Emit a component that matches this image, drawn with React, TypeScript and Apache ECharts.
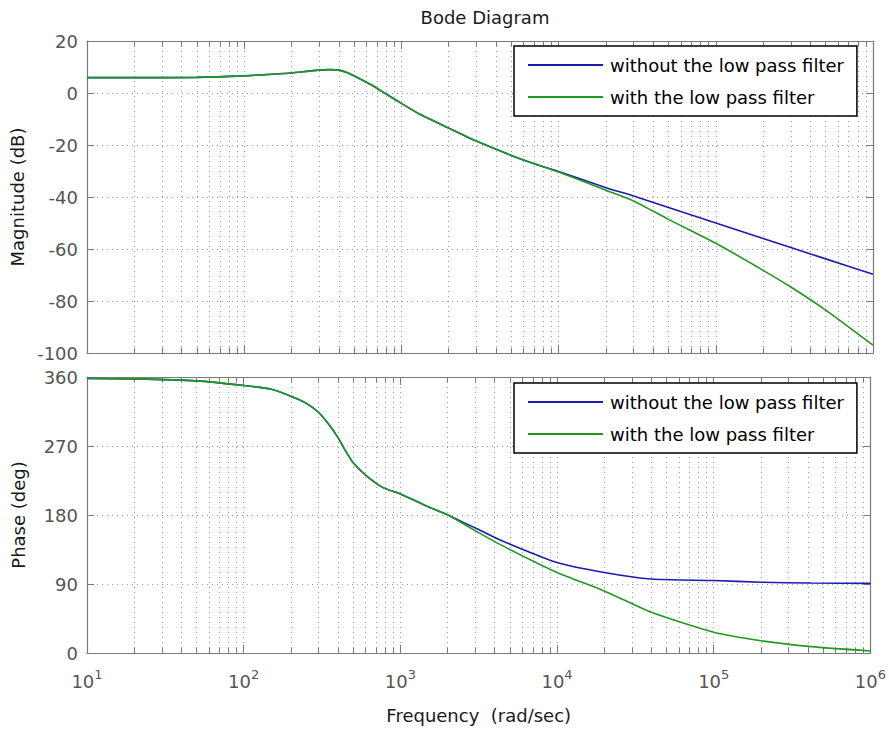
import React, { useEffect, useRef } from "react";
import * as echarts from "echarts";

// ---- data ----
const seriesNames = ["without the low pass filter", "with the low pass filter"];

const magFreq = [10, 20, 50, 100, 150, 200, 275, 350, 400, 450, 550, 650, 800, 1000, 1300, 2000, 3000, 5000, 7000, 10000, 20000, 30000, 50000, 100000, 200000, 300000, 500000, 1000000];
const magWithout = [5.9, 5.9, 6.0, 6.6, 7.2, 7.7, 8.6, 9.0, 8.8, 7.9, 5.3, 3.0, -0.4, -4.0, -8.1, -13.5, -18.5, -24.0, -27.2, -30.2, -36.4, -39.6, -44.0, -50.0, -56.0, -59.4, -63.8, -69.7];
const magWith = [5.9, 5.9, 6.0, 6.6, 7.2, 7.7, 8.6, 9.0, 8.8, 7.9, 5.3, 3.0, -0.4, -4.0, -8.1, -13.5, -18.5, -24.0, -27.2, -30.4, -37.4, -41.5, -48.6, -57.8, -68.2, -74.6, -83.5, -97.0];

const phaseFreq = [10, 20, 50, 100, 150, 200, 250, 300, 350, 400, 440, 500, 600, 770, 1000, 1440, 2000, 2430, 3160, 4370, 10000, 20000, 40000, 100000, 200000, 420000, 1000000];
const phaseWithout = [358, 357.5, 355, 349, 344, 335, 326, 314, 298, 281, 266, 248, 232, 216, 207.5, 192.5, 180.5, 172, 161, 147, 118, 105, 96.5, 94.5, 92.3, 91.3, 90.8];
const phaseWith = [358, 357.5, 355, 349, 344, 335, 326, 314, 298, 281, 266, 248, 232, 216, 207.5, 192.5, 180, 170.5, 157, 141, 105, 81, 53, 27, 16, 8.3, 2.6];

const majorTicks = [10, 100, 1000, 10000, 100000, 1000000];
const minorMultipliers = [1, 2, 3, 4, 5, 6, 7, 8, 9];
const magTicks = { min: -100, max: 20, interval: 20 };
const phaseTicks = { min: 0, max: 360, interval: 90 };

const allTicks: number[] = [];
majorTicks.forEach((d, i) => {
  if (i === majorTicks.length - 1) {
    allTicks.push(d);
  } else {
    minorMultipliers.forEach((m) => allTicks.push(d * m));
  }
});

const FONT = "'DejaVu Sans', 'Noto Sans', sans-serif";
const AXIS = "#7a7a7a";
const GRID = "#9a9a9a";
const TICK = "#555";
const TEXT = "#1a1a1a";
const BLUE = "#1c1cb0";
const GREEN = "#1f9a1f";

function xAxesFor(gridIndex: number, showLabels: boolean) {
  const base = {
    type: "log" as const,
    logBase: 10,
    gridIndex,
    min: 10,
    max: 1000000,
  };
  const shownLine = { show: true, onZero: false, lineStyle: { color: AXIS, width: 1.2 } };
  const hiddenLine = { show: false, onZero: false };
  const labelOpt = showLabels
    ? {
        show: true,
        customValues: majorTicks,
        margin: 15,
        formatter: (v: number) => `{b|10}{s|${Math.round(Math.log10(v))}}`,
        rich: {
          b: { fontSize: 18, fontFamily: FONT, color: TICK, lineHeight: 22, verticalAlign: "bottom" },
          s: { fontSize: 13, fontFamily: FONT, color: TICK, lineHeight: 13, verticalAlign: "top", padding: [0, 0, 12, 0] },
        },
      }
    : { show: false };
  return [
    {
      ...base,
      position: "bottom",
      axisLine: shownLine,
      axisTick: { show: true, inside: true, length: 5, customValues: allTicks, lineStyle: { color: AXIS } },
      splitLine: { show: true, lineStyle: { color: GRID, type: [1, 4], width: 1 } },
      axisLabel: labelOpt,
      ...(showLabels
        ? {
            name: "Frequency  (rad/sec)",
            nameLocation: "middle",
            nameGap: 53,
            nameTextStyle: { fontSize: 18, fontFamily: FONT, color: TEXT },
          }
        : {}),
    },
    {
      ...base,
      position: "bottom",
      axisLine: hiddenLine,
      axisTick: { show: true, inside: true, length: 8, customValues: majorTicks, lineStyle: { color: AXIS } },
      splitLine: { show: false },
      axisLabel: { show: false },
    },
    {
      ...base,
      position: "top",
      axisLine: shownLine,
      axisTick: { show: true, inside: true, length: 5, customValues: allTicks, lineStyle: { color: AXIS } },
      splitLine: { show: false },
      axisLabel: { show: false },
    },
    {
      ...base,
      position: "top",
      axisLine: hiddenLine,
      axisTick: { show: true, inside: true, length: 8, customValues: majorTicks, lineStyle: { color: AXIS } },
      splitLine: { show: false },
      axisLabel: { show: false },
    },
  ];
}

function yAxesFor(gridIndex: number, ticks: { min: number; max: number; interval: number }, name: string) {
  return [
    {
      type: "value",
      gridIndex,
      position: "left",
      min: ticks.min,
      max: ticks.max,
      interval: ticks.interval,
      name,
      nameLocation: "middle",
      nameGap: 60,
      nameTextStyle: { fontSize: 18, fontFamily: FONT, color: TEXT },
      axisLine: { show: true, onZero: false, lineStyle: { color: AXIS, width: 1.2 } },
      axisTick: { show: true, inside: true, length: 7, lineStyle: { color: AXIS } },
      axisLabel: { show: true, fontSize: 18, fontFamily: FONT, color: TICK, margin: 9 },
      splitLine: { show: true, lineStyle: { color: GRID, type: [1, 4], width: 1 } },
    },
    {
      type: "value",
      gridIndex,
      position: "right",
      min: ticks.min,
      max: ticks.max,
      interval: ticks.interval,
      axisLine: { show: true, onZero: false, lineStyle: { color: AXIS, width: 1.2 } },
      axisTick: { show: true, inside: true, length: 7, lineStyle: { color: AXIS } },
      axisLabel: { show: false },
      splitLine: { show: false },
    },
  ];
}

function lineSeries(name: string, color: string, xAxisIndex: number, yAxisIndex: number, xs: number[], ys: number[], z: number) {
  return {
    type: "line",
    name,
    xAxisIndex,
    yAxisIndex,
    data: xs.map((x, i) => [x, ys[i]]),
    symbol: "none",
    smooth: 0.2,
    lineStyle: { color, width: 1.6 },
    itemStyle: { color },
    z,
  };
}

function legendAt(top: number) {
  return {
    data: seriesNames,
    orient: "vertical",
    left: 514,
    top,
    icon: "rect",
    itemWidth: 75,
    itemHeight: 2,
    itemGap: 14,
    padding: [10, 13, 10, 14],
    backgroundColor: "#fff",
    borderColor: "#000",
    borderWidth: 1.5,
    selectedMode: false,
    textStyle: { fontSize: 18, fontFamily: FONT, color: "#000", padding: [0, 0, 0, 2] },
  };
}

export default function App() {
  const ref = useRef<HTMLDivElement>(null);
  useEffect(() => {
    document.body.style.margin = "0";
    if (!ref.current) return;
    const chart = echarts.init(ref.current, null, { renderer: "svg" });
    chart.setOption({
      animation: false,
      backgroundColor: "#fff",
      title: {
        text: "Bode Diagram",
        left: 480,
        top: 3,
        textAlign: "center",
        textStyle: { fontSize: 18, fontWeight: "normal", fontFamily: FONT, color: TEXT },
      },
      grid: [
        { left: 87, top: 41, width: 786, height: 312, containLabel: false },
        { left: 87, top: 377, width: 786, height: 276, containLabel: false },
      ],
      xAxis: [...xAxesFor(0, false), ...xAxesFor(1, true)],
      yAxis: [...yAxesFor(0, magTicks, "Magnitude (dB)"), ...yAxesFor(1, phaseTicks, "Phase (deg)")],
      legend: [legendAt(46), legendAt(383)],
      series: [
        lineSeries(seriesNames[0], BLUE, 0, 0, magFreq, magWithout, 2),
        lineSeries(seriesNames[1], GREEN, 0, 0, magFreq, magWith, 3),
        lineSeries(seriesNames[0], BLUE, 4, 2, phaseFreq, phaseWithout, 2),
        lineSeries(seriesNames[1], GREEN, 4, 2, phaseFreq, phaseWith, 3),
      ],
    });
    return () => chart.dispose();
  }, []);
  return <div ref={ref} style={{ width: 889, height: 732 }} />;
}
